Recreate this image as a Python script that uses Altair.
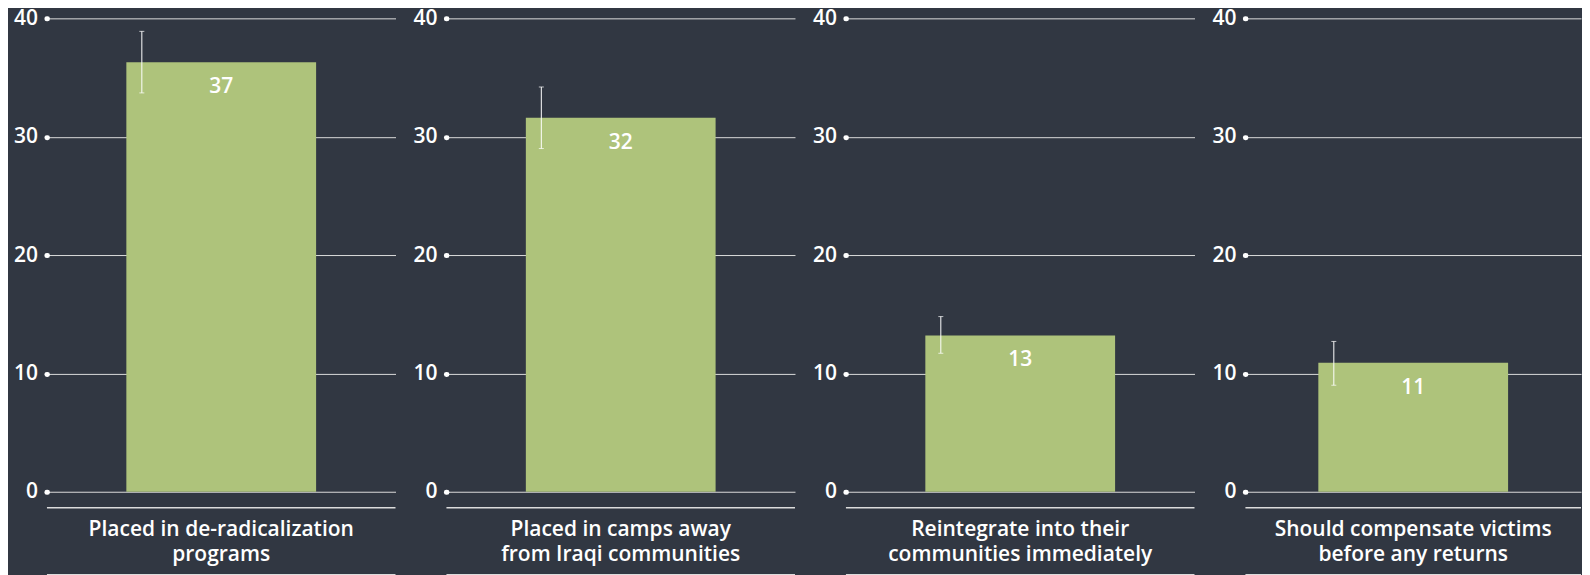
import altair as alt
import pandas as pd

categories = [
    "Placed in de-radicalization programs",
    "Placed in camps away from Iraqi communities",
    "Reintegrate into their communities immediately",
    "Should compensate victims before any returns",
]
title_lines = [
    ["Placed in de-radicalization", "programs"],
    ["Placed in camps away", "from Iraqi communities"],
    ["Reintegrate into their", "communities immediately"],
    ["Should compensate victims", "before any returns"],
]
values = [36.3, 31.6, 13.2, 10.9]
value_labels = ["37", "32", "13", "11"]
err_low = [33.7, 29.0, 11.7, 9.0]
err_high = [38.9, 34.2, 14.8, 12.7]
y_ticks = [0, 10, 20, 30, 40]

WIDTHS = [349, 349, 349, 336]
H = 474
BG = "#313742"
BAR = "#aec37b"
LINE = "#dcdcdc"
FONT = "Open Sans"
BAR_W = 190


def panel(i):
    W = WIDTHS[i]
    df = pd.DataFrame({
        "cat": [categories[i]],
        "value": [values[i]],
        "label": [value_labels[i]],
        "lo": [err_low[i]],
        "hi": [err_high[i]],
        "name": ["\n".join(title_lines[i])],
    })
    base = alt.Chart(df)
    po = (W / BAR_W - 1) / 2
    xscale = alt.Scale(paddingInner=0, paddingOuter=po)
    yscale = alt.Scale(domain=[0, 40], nice=False)
    yaxis = alt.Axis(
        values=y_ticks, grid=True, gridColor=LINE, gridWidth=1, domain=False,
        ticks=True, tickSize=0.5, tickWidth=5, tickCap="round", tickColor="#ffffff",
        labelColor="#ffffff", labelFontSize=21, labelFont=FONT, labelFontWeight=600,
        labelPadding=9, title=None,
    )
    xenc = alt.X("cat:N", scale=xscale, axis=None)
    bars = base.mark_bar(color=BAR).encode(
        x=xenc,
        y=alt.Y("value:Q", scale=yscale, axis=yaxis),
    )
    off = -(BAR_W / 2) + 15.5
    rule = base.mark_rule(color="#ffffff", strokeWidth=1, xOffset=off).encode(
        x=xenc, y=alt.Y("lo:Q", scale=yscale, axis=yaxis), y2="hi:Q",
    )
    cap_lo = base.mark_tick(color="#ffffff", size=5, thickness=1, xOffset=off).encode(
        x=xenc, y=alt.Y("lo:Q", scale=yscale, axis=yaxis),
    )
    cap_hi = base.mark_tick(color="#ffffff", size=5, thickness=1, xOffset=off).encode(
        x=xenc, y=alt.Y("hi:Q", scale=yscale, axis=yaxis),
    )
    text = base.mark_text(
        color="#ffffff", fontSize=21, font=FONT, fontWeight=600, dy=25, baseline="middle"
    ).encode(
        x=xenc, y=alt.Y("value:Q", scale=yscale, axis=yaxis), text="label:N",
    )
    domain_line = base.mark_rule(color=LINE, strokeWidth=1.5).encode(
        x=alt.value(0), x2=alt.value(W), y=alt.value(H + 16),
    )
    name = base.mark_text(
        color="#ffffff", fontSize=21, font=FONT, fontWeight=600, lineHeight=25,
        lineBreak="\n", align="center", baseline="middle",
    ).encode(
        x=alt.value(W / 2), y=alt.value(H + 38), text="name:N",
    )
    bottom = base.mark_rule(color=LINE, strokeWidth=1.5).encode(
        x=alt.value(0), x2=alt.value(W), y=alt.value(H + 83),
    )
    return alt.layer(bars, rule, cap_lo, cap_hi, text, domain_line, name, bottom).properties(
        width=W, height=H, view=alt.ViewBackground(stroke="transparent", strokeWidth=0)
    )


chart = alt.hconcat(*[panel(i) for i in range(4)], spacing=16).properties(
    background=BG,
    padding={"left": 5, "top": -1, "right": 0, "bottom": 0},
).configure_view(stroke="transparent", strokeWidth=0).configure(font=FONT)

chart.save("out.html", embed_options={"renderer": "svg", "actions": False})
